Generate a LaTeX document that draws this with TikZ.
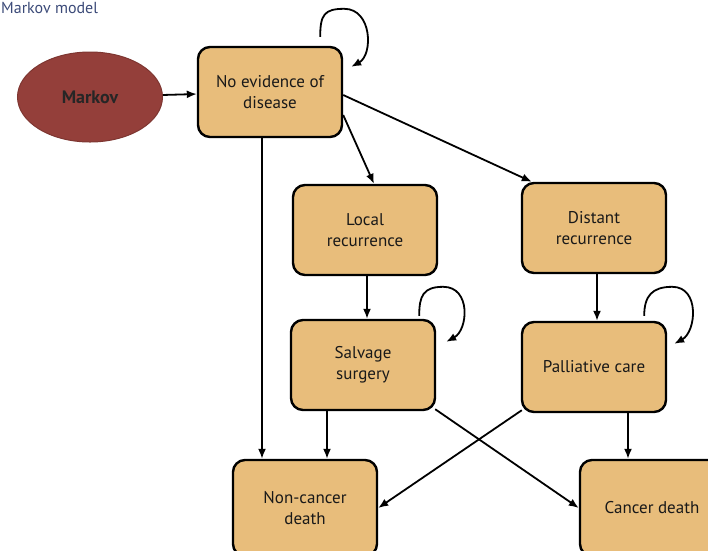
\documentclass[tikz,border=0pt]{standalone}
\usepackage{fontspec}
\setmainfont{PT Sans}
\usepackage{xcolor}
\usepackage{tikz}
\usetikzlibrary{shapes,arrows,arrows.meta,positioning}

\definecolor{boxfill}{HTML}{E8BD7B}
\definecolor{markovred}{HTML}{943F3A}
\definecolor{titleblue}{HTML}{3B4A78}

\tikzset{
  statebox/.style={draw=black, line width=2.4pt, rounded corners=12pt, fill=boxfill,
    minimum width=144pt, minimum height=90pt, align=center,
    font=\fontsize{17}{21}\selectfont, text=black!90},
  link/.style={line width=1.8pt, -{Latex[length=10pt,width=8pt]}},
}

\begin{document}
\begin{tikzpicture}[x=1pt,y=-1pt]
    \useasboundingbox (0,0) rectangle (708,550);

    % title
    \node[anchor=base west, text=titleblue, font=\fontsize{16}{18}\selectfont, inner sep=0pt] (title) at (1,13) {Markov model};

    % start node
    \node[ellipse, fill=markovred, draw=markovred!85!black, line width=1pt,
          minimum width=145pt, minimum height=90pt,
          font=\fontsize{18}{21}\selectfont\bfseries, text=black!85] (markov) at (90,97) {Markov};

    % states
    \node[statebox] (ned) at (270,92) {No evidence of\\disease};
    \node[statebox] (local) at (365,230) {Local\\recurrence};
    \node[statebox] (distant) at (594,228) {Distant\\recurrence};
    \node[statebox] (salvage) at (363,365) {Salvage\\surgery};
    \node[statebox] (palliative) at (594,367) {Palliative care};

    % absorbing states (cut at the bottom)
    \node[statebox, minimum height=96pt] (noncancer) at (305,508) {Non-cancer\\death};
    \node[statebox, minimum height=96pt] (cancer) at (652,508) {Cancer death};

    % transitions
    \draw[link] (markov) -- (ned);
    \draw[link] ([shift={(0,23)}]ned.east) -- ([shift={(9,0)}]local.north);
    \draw[link] ([shift={(0,3)}]ned.east) -- ([shift={(11,0)}]distant.north west);
    \draw[link] ([shift={(-8,0)}]ned.south) -- ([shift={(-43,0)}]noncancer.north);
    \draw[link] ([shift={(2,0)}]local.south) -- ([shift={(4,0)}]salvage.north);
    \draw[link] ([shift={(3,0)}]distant.south) -- ([shift={(3,0)}]palliative.north);
    \draw[link] ([shift={(-36,0)}]salvage.south) -- ([shift={(22,0)}]noncancer.north);
    \draw[link] ([shift={(-1,-2)}]salvage.south east) -- (cancer.west);
    \draw[link] ([shift={(1,-3)}]palliative.south west) -- (noncancer.east);
    \draw[link] ([shift={(34,0)}]palliative.south) -- ([shift={(-24,0)}]cancer.north);

    % self loops
    \draw[link] ([shift={(-23,-9)}]ned.north east) .. controls +(0,-22) and +(-20,0) .. ([shift={(1,-37)}]ned.north east)
        .. controls +(28,0) and +(22,-12) .. ([shift={(8,21)}]ned.north east);
    \draw[link] ([shift={(-17,-3)}]salvage.north east) .. controls +(0,-20) and +(-20,0) .. ([shift={(7,-32)}]salvage.north east)
        .. controls +(28,0) and +(22,-12) .. ([shift={(10,23)}]salvage.north east);
    \draw[link] ([shift={(-23,-5)}]palliative.north east) .. controls +(0,-20) and +(-20,0) .. ([shift={(5,-34)}]palliative.north east)
        .. controls +(28,0) and +(22,-12) .. ([shift={(7,23)}]palliative.north east);
\end{tikzpicture}
\end{document}
